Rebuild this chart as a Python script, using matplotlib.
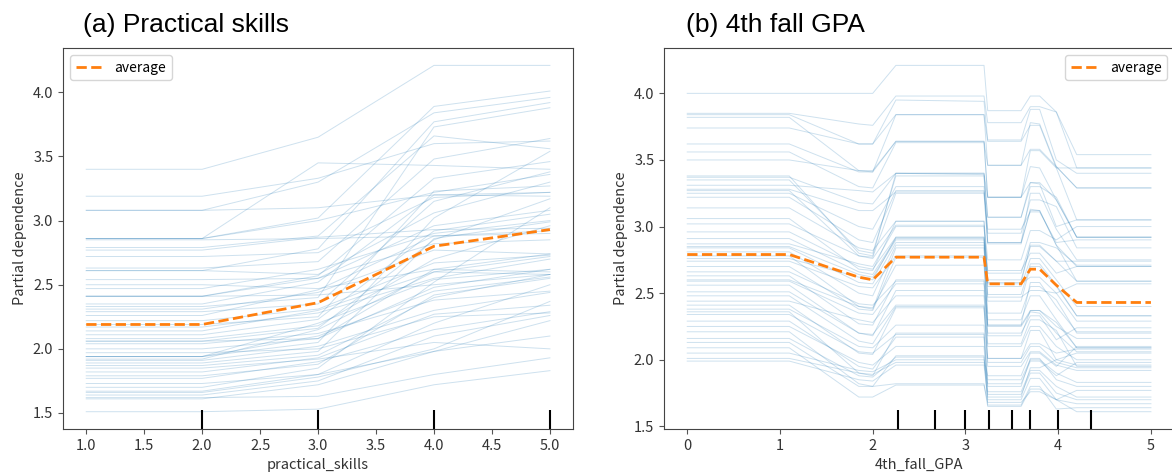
import numpy as np
import matplotlib
matplotlib.use('Agg')
import matplotlib.pyplot as plt

plt.rcParams['font.family'] = ['Noto Sans CJK JP', 'DejaVu Sans']

# (a) practical_skills: grid and individual (ICE) curves
grid_a = [1.0, 2.0, 3.0, 4.0, 5.0]
ice_a = [
    [3.40, 3.40, 3.65, 4.21, 4.21],
    [3.19, 3.19, 3.33, 3.60, 3.62],
    [3.08, 3.08, 3.30, 3.84, 3.96],
    [3.08, 3.08, 3.10, 3.20, 3.22],
    [2.86, 2.86, 3.45, 3.43, 3.40],
    [2.86, 2.86, 3.02, 3.89, 4.01],
    [2.86, 2.86, 3.00, 3.22, 3.36],
    [2.85, 2.85, 2.86, 2.88, 2.92],
    [2.79, 2.79, 2.88, 3.66, 3.56],
    [2.77, 2.77, 2.87, 2.93, 2.94],
    [2.72, 2.72, 2.75, 3.18, 3.22],
    [2.63, 2.63, 2.68, 3.48, 3.64],
    [2.61, 2.61, 2.58, 3.06, 3.30],
    [2.61, 2.61, 2.78, 3.77, 3.92],
    [2.54, 2.54, 2.55, 2.82, 2.85],
    [2.50, 2.50, 2.47, 2.62, 2.74],
    [2.47, 2.47, 2.62, 2.90, 3.00],
    [2.41, 2.41, 2.57, 3.33, 3.46],
    [2.41, 2.41, 2.55, 2.96, 3.08],
    [2.41, 2.41, 2.42, 2.50, 2.58],
    [2.35, 2.35, 2.52, 3.20, 3.19],
    [2.33, 2.33, 2.40, 3.73, 3.88],
    [2.31, 2.31, 2.44, 2.77, 2.74],
    [2.29, 2.29, 2.35, 3.15, 3.38],
    [2.26, 2.26, 2.46, 2.88, 2.90],
    [2.22, 2.22, 2.31, 2.67, 2.73],
    [2.19, 2.19, 2.25, 3.23, 3.27],
    [2.17, 2.17, 2.28, 2.55, 2.70],
    [2.14, 2.14, 2.30, 2.60, 2.72],
    [2.11, 2.11, 2.23, 2.92, 3.05],
    [2.08, 2.08, 2.18, 2.70, 2.96],
    [2.06, 2.06, 2.16, 2.85, 3.17],
    [2.06, 2.06, 2.08, 2.48, 2.62],
    [2.04, 2.04, 2.12, 2.38, 2.45],
    [2.00, 2.00, 2.08, 2.62, 2.60],
    [1.97, 1.97, 2.00, 2.25, 2.28],
    [1.94, 1.94, 2.10, 2.45, 2.56],
    [1.94, 1.94, 2.05, 3.02, 3.54],
    [1.94, 1.94, 2.20, 2.54, 2.62],
    [1.92, 1.92, 2.15, 2.60, 2.58],
    [1.91, 1.91, 2.02, 2.30, 2.44],
    [1.89, 1.89, 1.98, 2.86, 2.99],
    [1.87, 1.87, 1.95, 2.40, 2.58],
    [1.85, 1.85, 1.92, 2.05, 2.00],
    [1.82, 1.82, 1.93, 2.27, 2.34],
    [1.79, 1.79, 1.88, 2.42, 2.55],
    [1.77, 1.77, 1.90, 2.15, 2.29],
    [1.73, 1.73, 1.80, 2.20, 2.50],
    [1.70, 1.70, 1.85, 2.52, 3.10],
    [1.67, 1.67, 1.80, 1.98, 2.10],
    [1.66, 1.66, 1.78, 2.00, 2.37],
    [1.64, 1.64, 1.75, 2.10, 2.26],
    [1.62, 1.62, 1.63, 1.80, 1.93],
    [1.61, 1.61, 1.72, 1.98, 2.22],
    [1.51, 1.51, 1.53, 1.72, 1.83],
]
avg_a = [2.19, 2.19, 2.36, 2.80, 2.93]
deciles_a = [2.0, 3.0, 4.0, 5.0]

# (b) 4th_fall_GPA
grid_b = [0.0, 1.1, 1.85, 2.0, 2.25, 3.2, 3.24, 3.6, 3.7, 3.8, 3.98, 4.2, 5.0]
ice_b = [
    [4.00, 4.00, 4.00, 4.00, 4.21, 4.21, 3.87, 3.87, 3.98, 3.98, 3.86, 3.54, 3.54],
    [3.85, 3.85, 3.77, 3.76, 3.98, 3.98, 3.78, 3.78, 3.90, 3.90, 3.86, 3.44, 3.44],
    [3.84, 3.84, 3.62, 3.62, 3.95, 3.94, 3.65, 3.65, 3.88, 3.88, 3.50, 3.40, 3.40],
    [3.82, 3.82, 3.42, 3.41, 3.84, 3.84, 3.46, 3.46, 3.78, 3.77, 3.45, 3.29, 3.29],
    [3.74, 3.74, 3.62, 3.62, 3.84, 3.84, 3.64, 3.64, 3.76, 3.76, 3.44, 3.44, 3.44],
    [3.62, 3.62, 3.41, 3.41, 3.64, 3.64, 3.46, 3.46, 3.58, 3.58, 3.45, 3.29, 3.29],
    [3.56, 3.56, 3.30, 3.29, 3.63, 3.63, 3.22, 3.22, 3.57, 3.57, 3.44, 3.05, 3.05],
    [3.50, 3.50, 3.42, 3.42, 3.64, 3.64, 3.22, 3.22, 3.45, 3.44, 3.20, 2.92, 2.92],
    [3.38, 3.38, 2.80, 2.78, 3.40, 3.40, 3.22, 3.22, 3.33, 3.33, 3.20, 2.92, 2.92],
    [3.37, 3.37, 3.18, 3.17, 3.40, 3.39, 3.07, 3.07, 3.33, 3.32, 3.00, 3.05, 3.05],
    [3.35, 3.35, 2.82, 2.80, 3.38, 3.38, 2.88, 2.88, 3.25, 3.25, 2.98, 2.75, 2.75],
    [3.31, 3.31, 3.27, 3.26, 3.40, 3.40, 3.07, 3.07, 3.30, 3.30, 3.22, 2.92, 2.92],
    [3.28, 3.28, 3.12, 3.12, 3.26, 3.26, 2.88, 2.88, 3.12, 3.12, 2.86, 2.70, 2.70],
    [3.27, 3.27, 2.78, 2.77, 3.25, 3.25, 2.87, 2.87, 3.13, 3.12, 2.86, 2.59, 2.59],
    [3.25, 3.25, 3.00, 2.98, 3.30, 3.30, 2.95, 2.95, 3.20, 3.20, 3.15, 2.84, 2.84],
    [3.22, 3.22, 2.90, 2.88, 3.27, 3.27, 2.98, 2.98, 3.11, 3.11, 2.88, 2.90, 2.90],
    [3.14, 3.14, 2.84, 2.82, 3.04, 3.04, 2.75, 2.75, 2.97, 2.97, 2.90, 3.00, 3.00],
    [3.06, 3.06, 2.68, 2.67, 3.04, 3.04, 2.58, 2.58, 2.86, 2.86, 2.74, 2.74, 2.74],
    [3.02, 3.02, 2.78, 2.76, 3.01, 3.01, 2.60, 2.60, 2.85, 2.85, 2.74, 2.59, 2.59],
    [2.96, 2.96, 2.70, 2.68, 2.92, 2.92, 2.55, 2.55, 2.76, 2.76, 2.60, 2.40, 2.40],
    [2.91, 2.91, 2.66, 2.64, 2.91, 2.91, 2.49, 2.49, 2.72, 2.72, 2.56, 2.33, 2.33],
    [2.87, 2.87, 2.72, 2.70, 3.00, 3.00, 2.65, 2.65, 2.88, 2.88, 2.84, 2.71, 2.71],
    [2.85, 2.85, 2.64, 2.62, 2.90, 2.90, 2.44, 2.44, 2.70, 2.70, 2.55, 2.33, 2.33],
    [2.84, 2.84, 2.58, 2.57, 2.88, 2.88, 2.57, 2.57, 2.62, 2.62, 2.50, 2.29, 2.29],
    [2.81, 2.81, 2.50, 2.48, 2.86, 2.86, 2.26, 2.26, 2.58, 2.58, 2.40, 2.21, 2.21],
    [2.78, 2.78, 2.40, 2.38, 2.84, 2.84, 2.47, 2.47, 2.52, 2.52, 2.50, 2.57, 2.57],
    [2.76, 2.76, 2.62, 2.60, 2.92, 2.92, 2.67, 2.67, 2.80, 2.80, 2.65, 2.70, 2.70],
    [2.74, 2.74, 2.55, 2.54, 2.78, 2.78, 2.30, 2.30, 2.48, 2.48, 2.30, 2.09, 2.09],
    [2.70, 2.70, 2.38, 2.37, 2.77, 2.77, 2.18, 2.18, 2.37, 2.37, 2.25, 2.16, 2.16],
    [2.66, 2.66, 2.42, 2.41, 2.59, 2.59, 2.26, 2.26, 2.37, 2.37, 2.28, 2.09, 2.09],
    [2.63, 2.63, 2.27, 2.26, 2.60, 2.60, 2.25, 2.25, 2.36, 2.35, 2.20, 2.06, 2.06],
    [2.60, 2.60, 2.40, 2.39, 2.71, 2.71, 2.35, 2.35, 2.55, 2.55, 2.45, 2.20, 2.20],
    [2.59, 2.59, 2.35, 2.34, 2.57, 2.57, 2.20, 2.20, 2.33, 2.33, 2.15, 2.24, 2.24],
    [2.56, 2.56, 2.20, 2.18, 2.52, 2.52, 2.10, 2.10, 2.25, 2.25, 2.10, 2.00, 2.00],
    [2.51, 2.51, 2.20, 2.19, 2.41, 2.41, 2.01, 2.01, 2.22, 2.22, 2.00, 1.96, 1.96],
    [2.48, 2.48, 2.14, 2.12, 2.40, 2.40, 2.01, 2.01, 2.12, 2.12, 2.05, 2.08, 2.08],
    [2.44, 2.44, 2.30, 2.28, 2.48, 2.48, 2.12, 2.12, 2.30, 2.30, 2.22, 1.95, 1.95],
    [2.41, 2.41, 2.05, 2.04, 2.39, 2.39, 1.98, 1.98, 2.10, 2.10, 1.98, 1.94, 1.94],
    [2.38, 2.38, 2.10, 2.09, 2.26, 2.26, 1.95, 1.95, 2.06, 2.06, 1.96, 1.92, 1.92],
    [2.36, 2.36, 1.90, 1.88, 2.20, 2.20, 1.85, 1.85, 2.00, 2.00, 1.90, 1.83, 1.83],
    [2.34, 2.34, 2.06, 2.05, 2.19, 2.19, 1.80, 1.80, 2.01, 2.01, 1.85, 1.80, 1.80],
    [2.29, 2.29, 1.95, 1.93, 2.17, 2.17, 1.76, 1.76, 1.92, 1.92, 1.80, 1.72, 1.72],
    [2.25, 2.25, 1.98, 1.96, 2.10, 2.10, 1.74, 1.74, 1.90, 1.90, 1.75, 1.70, 1.70],
    [2.21, 2.21, 1.82, 1.80, 2.03, 2.03, 1.70, 1.70, 1.86, 1.86, 1.70, 1.67, 1.67],
    [2.16, 2.16, 1.88, 1.87, 2.02, 2.02, 1.66, 1.66, 1.80, 1.80, 1.63, 1.64, 1.64],
    [2.13, 2.13, 1.80, 1.80, 1.82, 1.82, 1.65, 1.65, 1.78, 1.78, 1.70, 1.61, 1.61],
    [2.09, 2.09, 1.72, 1.72, 1.81, 1.81, 1.68, 1.68, 1.76, 1.76, 1.70, 1.77, 1.77],
    [2.05, 2.05, 1.92, 1.91, 2.00, 2.00, 1.88, 1.88, 2.05, 2.05, 1.95, 2.10, 2.10],
    [2.01, 2.01, 1.90, 1.89, 1.98, 1.98, 1.82, 1.82, 1.99, 1.99, 1.88, 1.98, 1.98],
    [1.99, 1.99, 1.85, 1.84, 1.96, 1.96, 1.72, 1.72, 1.94, 1.94, 2.00, 2.05, 2.05],
]
avg_b = [2.79, 2.79, 2.62, 2.60, 2.77, 2.77, 2.57, 2.57, 2.68, 2.68, 2.56, 2.43, 2.43]
deciles_b = [2.27, 2.67, 3.0, 3.25, 3.5, 3.7, 4.0, 4.35]

fig = plt.figure(figsize=(11.72, 4.75), dpi=100)
ax1 = fig.add_axes([0.0538, 0.0968, 0.4352, 0.802])
ax2 = fig.add_axes([0.5666, 0.0968, 0.4352, 0.802])

panels = [
    (ax1, grid_a, ice_a, avg_a, deciles_a, 'practical_skills', 'upper left'),
    (ax2, grid_b, ice_b, avg_b, deciles_b, '4th_fall_GPA', 'upper right'),
]

for ax, grid, ice, avg, dec, xlab, loc in panels:
    for row in ice:
        ax.plot(grid, row, color='tab:blue', alpha=0.22, linewidth=0.7)
    ax.plot(grid, avg, color='tab:orange', linestyle='--', linewidth=2, label='average')
    trans = matplotlib.transforms.blended_transform_factory(ax.transData, ax.transAxes)
    ax.vlines(dec, 0, 0.05, transform=trans, color='k', linewidth=1.5)
    ax.set_xlabel(xlab, fontsize=10.5, color='#333333')
    ax.set_ylabel('Partial dependence', fontsize=10.5, color='#333333')
    ax.tick_params(labelsize=10.5, colors='#555555', labelcolor='#333333')
    for sp in ax.spines.values():
        sp.set_color('#444444')
    ax.legend(loc=loc, fontsize=10)

ax1.set_xticks([1.0, 1.5, 2.0, 2.5, 3.0, 3.5, 4.0, 4.5, 5.0])
ax1.set_yticks([1.5, 2.0, 2.5, 3.0, 3.5, 4.0])
ax2.set_xticks([0, 1, 2, 3, 4, 5])
ax2.set_yticks([1.5, 2.0, 2.5, 3.0, 3.5, 4.0])

fig.text(0.0708, 0.947, '(a) Practical skills', fontsize=19, family='Liberation Sans', va='center')
fig.text(0.5853, 0.947, '(b) 4th fall GPA', fontsize=19, family='Liberation Sans', va='center')

fig.savefig('out.png', dpi=100)
